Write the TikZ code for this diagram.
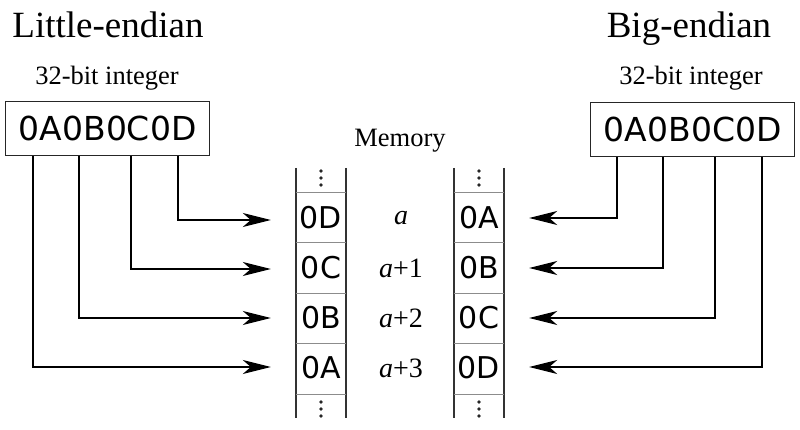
\documentclass[tikz,border=0pt]{standalone}
\usepackage{fontspec}
\setmainfont{Liberation Serif}
\newfontfamily\hexfont{DejaVu Sans}
\usetikzlibrary{arrows.meta}
\begin{document}
\begin{tikzpicture}[x=1pt,y=-1pt,
  title/.style={font=\fontsize{37}{40}\selectfont, anchor=base},
  sub/.style={font=\fontsize{26.5}{30}\selectfont, anchor=base},
  hexbox/.style={draw=black!85, line width=1.3pt, minimum width=204pt, minimum height=54pt, inner sep=0pt, anchor=north west, font=\hexfont\fontsize{33}{36}\selectfont},
  cell/.style={minimum width=50pt, minimum height=50pt, inner sep=0pt, font=\hexfont\fontsize{30}{32}\selectfont},
  addr/.style={font=\fontsize{28}{30}\selectfont},
  colline/.style={draw=black!80, line width=1.2pt},
  divline/.style={draw=black!45, line width=1pt},
  conn/.style={draw=black, line width=1.5pt, -{Stealth[length=28pt,width=14pt,inset=8pt]}, shorten >=25pt},
  dotc/.style={fill=black!85}
]
\useasboundingbox (0,0) rectangle (800,430);

% titles
\node[title] (tle) at (108,38) {Little-endian};
\node[title] (tbe) at (689,38) {Big-endian};
\node[sub] (sle) at (107,85) {32-bit integer};
\node[sub] (sbe) at (691,85) {32-bit integer};
\node[sub] (mem) at (400,147) {Memory};

% hex boxes
\node[hexbox] (lehex) at (5,101) {0A0B0C0D};
\node[hexbox] (behex) at (590,102) {0A0B0C0D};

% memory columns
\foreach \xl/\xr in {296/346, 454/504}{
  \draw[colline] (\xl,168) -- (\xl,418);
  \draw[colline] (\xr,168) -- (\xr,418);
  \foreach \yy in {193,243,293,343,394}
    \draw[divline] (\xl,\yy) -- (\xr,\yy);
  \foreach \yy in {171,178,185,402,409,416}
    \fill[dotc] ({(\xl+\xr)/2},\yy) circle (1.8pt);
}

% cells
\node[cell] (l1) at (321,218) {0D};
\node[cell] (l2) at (321,268) {0C};
\node[cell] (l3) at (321,318) {0B};
\node[cell] (l4) at (321,368) {0A};
\node[cell] (r1) at (479,218) {0A};
\node[cell] (r2) at (479,268) {0B};
\node[cell] (r3) at (479,318) {0C};
\node[cell] (r4) at (479,368) {0D};

% addresses
\node[addr] (a0) at (401,218) {\textit{a}};
\node[addr] (a1) at (401,268) {\textit{a}+1};
\node[addr] (a2) at (401,318) {\textit{a}+2};
\node[addr] (a3) at (401,368) {\textit{a}+3};

% connectors little-endian
\draw[conn] ([xshift=173pt]lehex.south west) |- ([yshift=-2pt]l1.west);
\draw[conn] ([xshift=126pt]lehex.south west) |- ([yshift=-1pt]l2.west);
\draw[conn] ([xshift=74pt]lehex.south west) |- (l3.west);
\draw[conn] ([xshift=28pt]lehex.south west) |- ([yshift=1pt]l4.west);

% connectors big-endian
\draw[conn] ([xshift=27pt]behex.south west) |- (r1.east);
\draw[conn] ([xshift=73pt]behex.south west) |- (r2.east);
\draw[conn] ([xshift=125pt]behex.south west) |- (r3.east);
\draw[conn] ([xshift=172pt]behex.south west) |- ([yshift=1pt]r4.east);
\end{tikzpicture}
\end{document}
